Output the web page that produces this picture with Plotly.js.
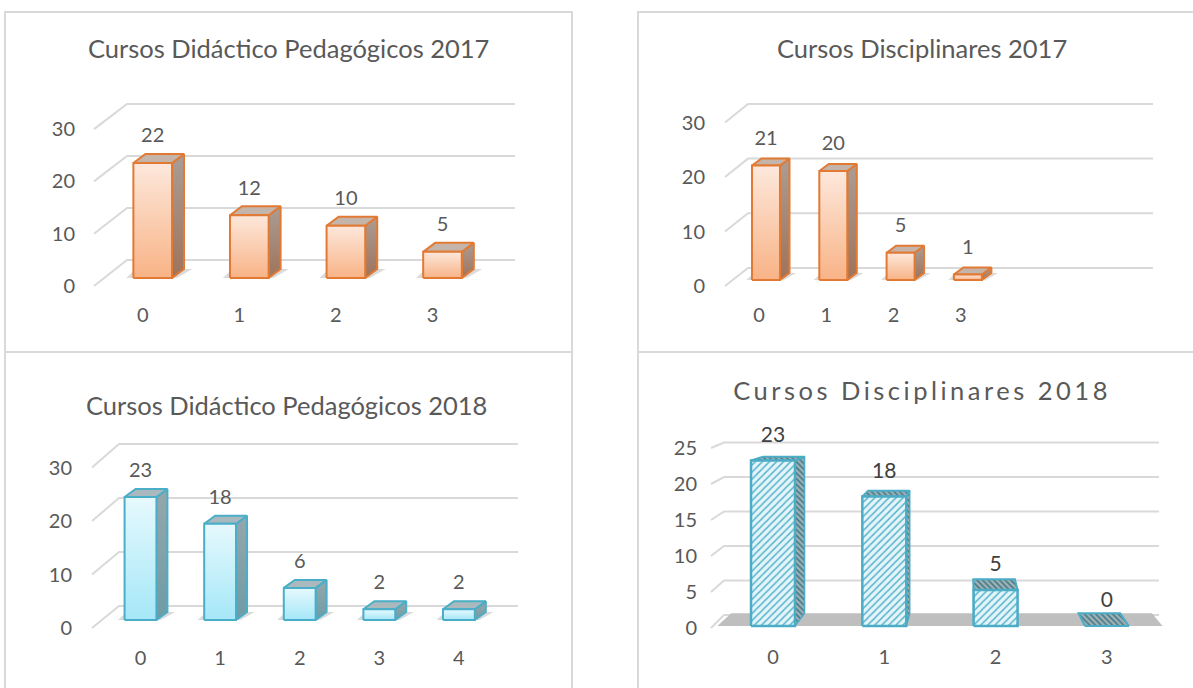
<!DOCTYPE html>
<html><head><meta charset="utf-8">
<script src="https://cdn.plot.ly/plotly-3.0.1.min.js"></script>
<style>html,body{margin:0;padding:0;background:#fff}#chart{width:1193px;height:688px}</style>
</head><body><div id="chart"></div>
<script>
// ---------------- data ----------------
const titleDP2017 = 'Cursos Didáctico Pedagógicos 2017';
const titleD2017  = 'Cursos Disciplinares 2017';
const titleDP2018 = 'Cursos Didáctico Pedagógicos 2018';
const titleD2018  = 'Cursos Disciplinares 2018';
const catsDP2017 = ['0','1','2','3'];
const valsDP2017 = [22, 12, 10, 5];
const catsD2017  = ['0','1','2','3'];
const valsD2017  = [21, 20, 5, 1];
const catsDP2018 = ['0','1','2','3','4'];
const valsDP2018 = [23, 18, 6, 2, 2];
const catsD2018  = ['0','1','2','3'];
const valsD2018  = [23, 18, 5, 0];
const yTicks30 = [0, 10, 20, 30];
const yTicks25 = [0, 5, 10, 15, 20, 25];

// ---------------- style / layout ----------------
const W = 1193, H = 688;
const FONT = 'Lato, "Open Sans", sans-serif';
const TXT = '#595959';
const GRID = '#d9d9d9';

const ORANGE = {line:'#e27a34', front:[[0,'#f8b386'],[1,'#fde8dc']], side:[[0,'#9f735a'],[1,'#aa9d95']], top:'#c4b4a9'};
const CYAN   = {line:'#4aaec8', front:[[0,'#a5e7f8'],[1,'#e6f9fd']], side:[[0,'#6f9ba5'],[1,'#95a7ab']], top:'#a9b9bd'};

const panels = [
  {title:titleDP2017, cats:catsDP2017, vals:valsDP2017, ticks:yTicks30, style:ORANGE, kind:'oblique',
   tc:[288,48], dom:[76,60,560,301], x0:152.7, xs:96.6, y0:278, ys:5.23, barW:0.40, dx:12, dy:9,
   grid:{front:94, back:127, right:515, frontOff:8, backOff:18, backScale:5.2}, xShift:-10, yShift:8, lab:25.5},
  {title:titleD2017, cats:catsD2017, vals:valsD2017, ticks:yTicks30, style:ORANGE, kind:'oblique',
   tc:[922,48], dom:[706,60,1180,301], x0:766, xs:67.3, y0:280, ys:5.45, barW:0.416, dx:9.5, dy:7,
   grid:{front:725, back:748, right:1153, frontOff:6, backOff:12, backScale:5.47}, xShift:-7, yShift:6, lab:26},
  {title:titleDP2018, cats:catsDP2018, vals:valsDP2018, ticks:yTicks30, style:CYAN, kind:'oblique',
   tc:[286,405], dom:[73,420,560,644], x0:140.5, xs:79.6, y0:620, ys:5.35, barW:0.40, dx:11, dy:8,
   grid:{front:92, back:119, right:518, frontOff:8, backOff:14, backScale:5.4}, xShift:-7.5, yShift:8, lab:25},
  {title:titleD2018, cats:catsD2018, vals:valsD2018, ticks:yTicks25, kind:'persp',
   tc:[922,390], dom:[698,420,1180,643], x0:773, xs:111.3, y0:626, ys:7.2, barW:0.395, vp:[969,395], k:0.055,
   grid:{front:711, back:724, right:1159, frontOff:2, backOff:11, backScale:6.9}, xShift:0, yShift:2, lab:24}
];

const traces = [];
const layout = {
  width:W, height:H, margin:{l:0,r:0,t:0,b:0}, autosize:false,
  paper_bgcolor:'#ffffff', plot_bgcolor:'rgba(0,0,0,0)', showlegend:false,
  font:{family:FONT, color:TXT}, shapes:[], annotations:[], hovermode:false
};

// panel frames
const frames = [[5,12,572,352],[638,12,1205,352],[5,352,572,700],[638,352,1205,700]];
frames.forEach(f => layout.shapes.push({type:'rect', xref:'paper', yref:'paper', layer:'below',
  x0:f[0]/W, x1:f[2]/W, y0:1-f[3]/H, y1:1-f[1]/H, line:{color:GRID, width:2}, fillcolor:'rgba(0,0,0,0)'}));

function closed(pts){ return {x:pts.map(p=>p[0]).concat([pts[0][0]]), y:pts.map(p=>p[1]).concat([pts[0][1]])}; }

panels.forEach((p, idx) => {
  const k = idx + 1;
  const xa = k === 1 ? 'x' : 'x' + k;
  const ya = k === 1 ? 'y' : 'y' + k;
  const X = px => (px - p.x0) / p.xs;          // pixel -> x data
  const n = p.vals.length;
  const [l, t, r, b] = p.dom;
  layout['xaxis' + (k===1?'':k)] = {
    domain:[l/W, r/W], range:[X(l), X(r)], anchor:ya, fixedrange:true,
    showgrid:false, zeroline:false, showline:false, ticks:'',
    tickmode:'array', tickvals:p.cats.map((c,i)=>i), ticktext:p.cats,
    tickfont:{family:FONT, size:20, color:TXT}, ticklabelshift:p.xShift
  };
  layout['yaxis' + (k===1?'':k)] = {
    domain:[1-b/H, 1-t/H], range:[(p.y0-b)/p.ys, (p.y0-t)/p.ys], anchor:xa, fixedrange:true,
    showgrid:false, zeroline:false, showline:false, ticks:'',
    tickmode:'array', tickvals:p.ticks, ticktext:p.ticks.map(String),
    tickfont:{family:FONT, size:20, color:TXT}, ticklabelshift:p.yShift
  };
  layout.annotations.push({xref:'paper', yref:'paper', x:p.tc[0]/W, y:1-p.tc[1]/H, xanchor:'center', yanchor:'middle',
    text:p.title, showarrow:false, font:{family:FONT, size:25.5, color:TXT}});

  // gridlines (back wall with depth diagonal)
  const g = p.grid, gx = [], gy = [];
  p.ticks.forEach(v => {
    const yb = (g.backOff + g.backScale * v) / p.ys;
    gx.push(X(g.front), X(g.back), X(g.right), null);
    gy.push(v - g.frontOff / p.ys, yb, yb, null);
  });
  traces.push({type:'scatter', mode:'lines', x:gx, y:gy, xaxis:xa, yaxis:ya, hoverinfo:'skip',
    line:{color:GRID, width:2}});

  const hw = p.barW / 2;
  if (p.kind === 'oblique') {
    const ddx = p.dx / p.xs, ddy = p.dy / p.ys;
    const s = p.style;
    // soft floor shadows behind the bars
    p.vals.forEach((v, i) => {
      const xl = i - hw, xr = i + hw;
      const sh = closed([[xl - ddx*0.6, 0], [xr + ddx*0.4, 0], [xr + ddx*1.7, ddy*1.0], [xl + ddx*0.2, ddy*1.0]]);
      traces.push({type:'scatter', mode:'lines', x:sh.x, y:sh.y, xaxis:xa, yaxis:ya, hoverinfo:'skip',
        fill:'toself', fillcolor:'rgba(90,90,90,0.22)', line:{width:0, color:'rgba(0,0,0,0)'}});
    });
    p.vals.forEach((v, i) => {
      const xl = i - hw, xr = i + hw;
      const side = closed([[xr,0],[xr+ddx,ddy],[xr+ddx,v+ddy],[xr,v]]);
      traces.push({type:'scatter', mode:'lines', x:side.x, y:side.y, xaxis:xa, yaxis:ya, hoverinfo:'skip',
        fill:'toself', fillgradient:{type:'vertical', colorscale:s.side}, line:{color:s.line, width:2}});
      const top = closed([[xl,v],[xr,v],[xr+ddx,v+ddy],[xl+ddx,v+ddy]]);
      traces.push({type:'scatter', mode:'lines', x:top.x, y:top.y, xaxis:xa, yaxis:ya, hoverinfo:'skip',
        fill:'toself', fillcolor:s.top, line:{color:s.line, width:2}});
      const front = closed([[xl,0],[xr,0],[xr,v],[xl,v]]);
      traces.push({type:'scatter', mode:'lines', x:front.x, y:front.y, xaxis:xa, yaxis:ya, hoverinfo:'skip',
        fill:'toself', fillgradient:{type:'vertical', colorscale:s.front}, line:{color:s.line, width:2}});
    });
    traces.push({type:'scatter', mode:'text', x:p.vals.map((v,i)=>i), y:p.vals.map(v=>v + p.lab/p.ys),
      text:p.vals.map(String), textposition:'middle center', cliponaxis:false, hoverinfo:'skip',
      textfont:{family:FONT, size:20, color:TXT}, xaxis:xa, yaxis:ya});
  } else {
    // perspective bars toward a vanishing point
    const VP = [X(p.vp[0]), (p.y0 - p.vp[1]) / p.ys];
    const back = pt => [pt[0] + p.k*(VP[0]-pt[0]), pt[1] + p.k*(VP[1]-pt[1])];
    const BL = '#4bacc6';
    const darkPat = {shape:'\\', fgcolor:'#3f7c8c', bgcolor:'#a3b0b3', size:4, solidity:0.4};
    const frontPat = {shape:'/', fgcolor:'#5ab4cc', bgcolor:'#e4f5fa', size:5, solidity:0.3};
    // floor
    const fl = [[-0.5,0],[n-0.5,0]];
    const floor = closed([fl[0], fl[1], back(fl[1]), back(fl[0])]);
    traces.push({type:'scatter', mode:'lines', x:floor.x, y:floor.y, xaxis:xa, yaxis:ya, hoverinfo:'skip',
      fill:'toself', fillcolor:'#bfbfbf', line:{width:0, color:'rgba(0,0,0,0)'}});
    p.vals.forEach((v, i) => {
      const xl = i - hw, xr = i + hw;
      if (VP[0] > xr && v > 0) {
        const sd = closed([[xr,0], back([xr,0]), back([xr,v]), [xr,v]]);
        traces.push({type:'scatter', mode:'lines', x:sd.x, y:sd.y, xaxis:xa, yaxis:ya, hoverinfo:'skip',
          fill:'toself', fillpattern:darkPat, line:{color:BL, width:1.5}});
      }
      if (VP[0] < xl && v > 0) {
        const sd = closed([[xl,0], back([xl,0]), back([xl,v]), [xl,v]]);
        traces.push({type:'scatter', mode:'lines', x:sd.x, y:sd.y, xaxis:xa, yaxis:ya, hoverinfo:'skip',
          fill:'toself', fillpattern:darkPat, line:{color:BL, width:1.5}});
      }
      if (VP[1] > v) {
        const tp = closed([[xl,v],[xr,v], back([xr,v]), back([xl,v])]);
        traces.push({type:'scatter', mode:'lines', x:tp.x, y:tp.y, xaxis:xa, yaxis:ya, hoverinfo:'skip',
          fill:'toself', fillpattern:darkPat, line:{color:BL, width:2}});
      }
      if (v > 0) {
        const fr = closed([[xl,0],[xr,0],[xr,v],[xl,v]]);
        traces.push({type:'scatter', mode:'lines', x:fr.x, y:fr.y, xaxis:xa, yaxis:ya, hoverinfo:'skip',
          fill:'toself', fillpattern:frontPat, line:{color:BL, width:2.5}});
      }
    });
    traces.push({type:'scatter', mode:'text', x:p.vals.map((v,i)=>i), y:p.vals.map(v=>v + p.lab/p.ys),
      text:p.vals.map(String), textposition:'middle center', cliponaxis:false, hoverinfo:'skip',
      textfont:{family:FONT, size:21, color:'#404040'}, xaxis:xa, yaxis:ya});
  }
});

Plotly.newPlot('chart', traces, layout, {displayModeBar:false, staticPlot:true}).then(() => {
  document.querySelectorAll('.annotation-text').forEach(el => {
    if (el.textContent === titleD2018) { el.style.letterSpacing = '3.5px'; }
  });
});
</script>
</body></html>
